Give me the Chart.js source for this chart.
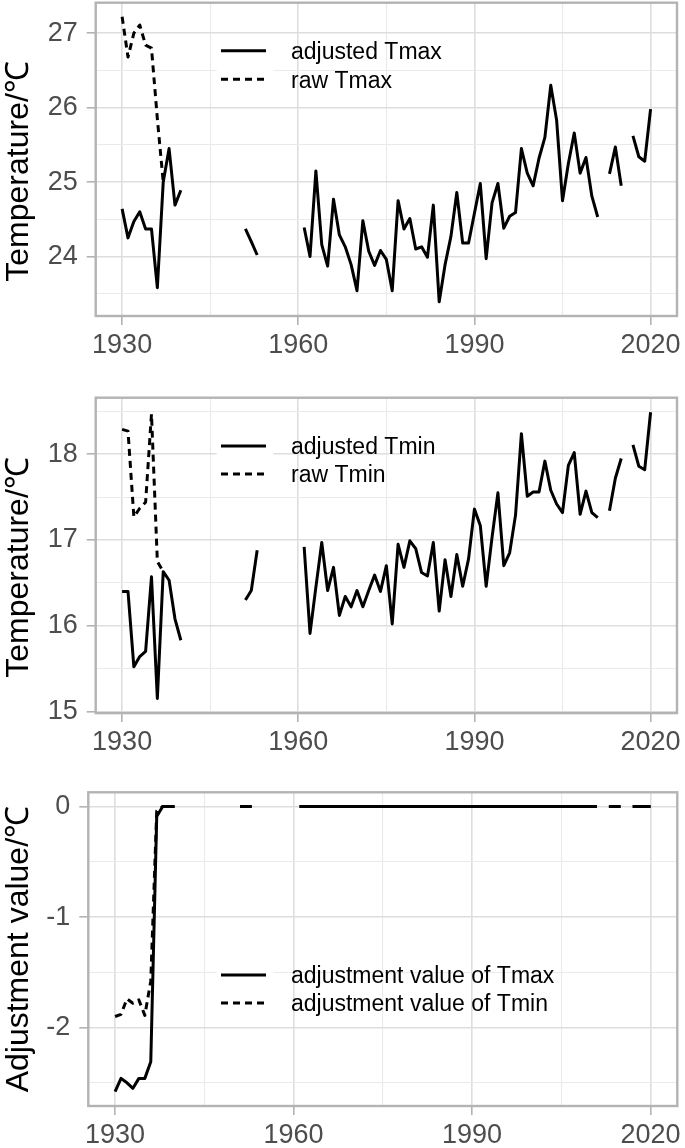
<!DOCTYPE html>
<html>
<head>
<meta charset="utf-8">
<script src="https://cdn.jsdelivr.net/npm/chart.js@4.4.1/dist/chart.umd.min.js"></script>
<style>
html,body{margin:0;padding:0;background:#fff;}
body{width:685px;height:1148px;position:relative;overflow:hidden;}
canvas{position:absolute;left:0;display:block;}
</style>
</head>
<body>
<canvas id="c1" width="685" height="380" style="top:0px;width:685px;height:380px"></canvas>
<canvas id="c2" width="685" height="390" style="top:380px;width:685px;height:390px"></canvas>
<canvas id="c3" width="685" height="378" style="top:770px;width:685px;height:378px"></canvas>
<script>
// ---------- DATA ----------
const years = [];
for (let y = 1930; y <= 2020; y++) years.push(y);
const rawYears = [1930, 1931, 1932, 1933, 1934, 1935, 1936, 1937];

const tmaxAdjusted = [
  24.64, 24.25, 24.47, 24.60, 24.37, 24.37, 23.58, 25.00, 25.45, 24.69,
  24.89, null, null, null, null, null, null, null, null, null,
  null, 24.37, 24.20, 24.02, null, null, null, null, null, null,
  null, 24.39, 24.00, 25.15, 24.16, 23.87, 24.77, 24.29, 24.13, 23.89,
  23.54, 24.48, 24.07, 23.88, 24.08, 23.96, 23.54, 24.75, 24.37, 24.51,
  24.10, 24.13, 23.99, 24.69, 23.39, 23.89, 24.27, 24.86, 24.18, 24.18,
  24.58, 24.98, 23.97, 24.72, 24.98, 24.38, 24.54, 24.59, 25.45, 25.12,
  24.95, 25.32, 25.60, 26.30, 25.83, 24.75, 25.25, 25.66, 25.12, 25.33,
  24.81, 24.53, null, 25.11, 25.47, 24.95, null, 25.62, 25.34, 25.28,
  25.98
];
const tmaxRaw = [27.22, 26.68, 27.00, 27.11, 26.84, 26.80, 25.85, 25.00];

const tminAdjusted = [
  16.40, 16.40, 15.52, 15.64, 15.70, 16.57, 15.15, 16.63, 16.53, 16.08,
  15.83, null, null, null, null, null, null, null, null, null,
  null, 16.30, 16.41, 16.88, null, null, null, null, null, null,
  null, 16.92, 15.91, 16.45, 16.97, 16.41, 16.68, 16.12, 16.34, 16.22,
  16.41, 16.22, 16.41, 16.59, 16.40, 16.70, 16.02, 16.95, 16.68, 16.99,
  16.90, 16.62, 16.58, 16.97, 16.17, 16.77, 16.34, 16.83, 16.46, 16.78,
  17.36, 17.17, 16.46, 17.03, 17.55, 16.70, 16.85, 17.29, 18.24, 17.51,
  17.56, 17.56, 17.92, 17.58, 17.42, 17.32, 17.87, 18.02, 17.30, 17.57,
  17.32, 17.26, null, 17.34, 17.72, 17.95, null, 18.11, 17.86, 17.82,
  18.49
];
const tminRaw = [18.29, 18.27, 17.27, 17.37, 17.44, 18.47, 16.75, 16.63];

const adjTmax = [
  -2.58, -2.46, -2.50, -2.55, -2.46, -2.46, -2.31, -0.09, 0, 0,
  0, null, null, null, null, null, null, null, null, null,
  null, 0, 0, 0, null, null, null, null, null, null,
  null, 0, 0, 0, 0, 0, 0, 0, 0, 0,
  0, 0, 0, 0, 0, 0, 0, 0, 0, 0,
  0, 0, 0, 0, 0, 0, 0, 0, 0, 0,
  0, 0, 0, 0, 0, 0, 0, 0, 0, 0,
  0, 0, 0, 0, 0, 0, 0, 0, 0, 0,
  0, 0, null, 0, 0, 0, null, 0, 0, 0,
  0
];
const adjTmin = [
  -1.90, -1.88, -1.74, -1.78, -1.75, -1.89, -1.58, -0.04, 0, 0,
  0, null, null, null, null, null, null, null, null, null,
  null, 0, 0, 0, null, null, null, null, null, null,
  null, 0, 0, 0, 0, 0, 0, 0, 0, 0,
  0, 0, 0, 0, 0, 0, 0, 0, 0, 0,
  0, 0, 0, 0, 0, 0, 0, 0, 0, 0,
  0, 0, 0, 0, 0, 0, 0, 0, 0, 0,
  0, 0, 0, 0, 0, 0, 0, 0, 0, 0,
  0, 0, null, 0, 0, 0, null, 0, 0, 0,
  0
];

const xTicks = [1930, 1945, 1960, 1975, 1990, 2005, 2020];
const xLabels = [1930, 1960, 1990, 2020];
const yTicks1 = [23.5, 24, 24.5, 25, 25.5, 26, 26.5, 27];
const yTicks2 = [15, 15.5, 16, 16.5, 17, 17.5, 18, 18.5];
const yTicks3 = [-2.5, -2, -1.5, -1, -0.5, 0];

// ---------- HELPERS ----------
const FONT = "'Liberation Sans', Arial, Helvetica, sans-serif";
const MAJOR = '#DEDEDE', MINOR = '#EAEAEA', FRAME = '#B3B3B3';

function pts(xs, ys) { return xs.map((x, i) => ({ x: x, y: ys[i] })); }
const isInt = v => Math.abs(v - Math.round(v)) < 1e-9;

const deco = {
  id: 'deco',
  afterDraw(chart, args, o) {
    const ctx = chart.ctx, a = chart.chartArea;
    ctx.save();
    ctx.strokeStyle = FRAME; ctx.lineWidth = 2.4;
    ctx.strokeRect(a.left, a.top, a.right - a.left, a.bottom - a.top);
    const L = o.legend;
    L.items.forEach((it, i) => {
      const y = L.y[i];
      ctx.fillStyle = '#fff';
      ctx.fillRect(L.boxX0, y - L.rowH / 2, L.boxX1 - L.boxX0, L.rowH);
    });
    L.items.forEach((it, i) => {
      const y = L.y[i];
      ctx.strokeStyle = '#000'; ctx.lineWidth = 3;
      ctx.setLineDash(it.dash);
      ctx.beginPath(); ctx.moveTo(L.lineX0, y); ctx.lineTo(L.lineX1, y); ctx.stroke();
      ctx.setLineDash([]);
      ctx.fillStyle = '#000';
      ctx.font = '23px ' + FONT;
      ctx.textBaseline = 'middle'; ctx.textAlign = 'left';
      ctx.fillText(it.label, L.textX, y + 2);
    });
    ctx.restore();
  }
};

function makeChart(id, cfg) {
  const ds = cfg.series.map(s => ({
    label: s.label,
    data: pts(s.x, s.y),
    borderColor: '#000',
    borderWidth: 3,
    borderDash: s.dash,
    pointRadius: 0,
    fill: false,
    spanGaps: false,
    tension: 0,
    borderJoinStyle: 'round',
    borderCapStyle: 'butt'
  }));
  return new Chart(document.getElementById(id), {
    type: 'line',
    data: { datasets: ds },
    options: {
      responsive: false,
      animation: false,
      devicePixelRatio: 1,
      layout: { padding: { top: cfg.padTop, right: cfg.padRight, left: 0, bottom: 0 } },
      plugins: {
        legend: { display: false },
        tooltip: { enabled: false },
        deco: { legend: cfg.legend }
      },
      scales: {
        x: {
          type: 'linear',
          min: 1925.5, max: 2024.5,
          afterBuildTicks: s => { s.ticks = xTicks.map(v => ({ value: v })); },
          afterFit: s => { s.height = cfg.xHeight; s.paddingLeft = 0; s.paddingRight = 0; },
          ticks: {
            autoSkip: false, maxRotation: 0, minRotation: 0,
            padding: 4,
            color: '#4D4D4D',
            font: { family: FONT, size: 27 },
            callback: v => xLabels.includes(v) ? String(v) : ''
          },
          grid: {
            color: c => (c.tick && xLabels.includes(c.tick.value)) ? MAJOR : MINOR,
            lineWidth: c => (c.tick && xLabels.includes(c.tick.value)) ? 1.6 : 1.1,
            tickColor: c => (c.tick && xLabels.includes(c.tick.value)) ? FRAME : 'rgba(0,0,0,0)',
            tickWidth: 1.6,
            tickLength: 9,
            drawTicks: true
          },
          border: { display: false }
        },
        y: {
          type: 'linear',
          min: cfg.yMin, max: cfg.yMax,
          afterBuildTicks: s => { s.ticks = cfg.yTicks.map(v => ({ value: v })); },
          afterFit: s => { s.width = cfg.yWidth; s.paddingTop = 0; s.paddingBottom = 0; },
          ticks: {
            autoSkip: false,
            padding: 9,
            color: '#4D4D4D',
            font: { family: FONT, size: 27 },
            callback: v => isInt(v) ? String(Math.round(v)) : ''
          },
          grid: {
            color: c => (c.tick && isInt(c.tick.value)) ? MAJOR : MINOR,
            lineWidth: c => (c.tick && isInt(c.tick.value)) ? 1.6 : 1.1,
            tickColor: c => (c.tick && isInt(c.tick.value)) ? FRAME : 'rgba(0,0,0,0)',
            tickWidth: 1.6,
            tickLength: 9,
            drawTicks: true
          },
          border: { display: false },
          title: {
            display: true,
            text: cfg.yTitle,
            color: '#000',
            font: { family: FONT, size: 32 },
            padding: { top: 0, bottom: 0 }
          }
        }
      }
    },
    plugins: [deco]
  });
}

const legendBase = { boxX0: 216.7, boxX1: 273.3, lineX0: 221, lineX1: 266, textX: 291, rowH: 28.5 };

makeChart('c1', {
  series: [
    { label: 'adjusted Tmax', x: years, y: tmaxAdjusted, dash: [] },
    { label: 'raw Tmax', x: rawYears, y: tmaxRaw, dash: [7, 5] }
  ],
  yMin: 23.2, yMax: 27.41, yTicks: yTicks1,
  yTitle: 'Temperature/℃  \u2009',
  padTop: 2.7, padRight: 8, yWidth: 95.7, xHeight: 64,
  legend: Object.assign({}, legendBase, {
    y: [50.7, 79.3],
    items: [{ label: 'adjusted Tmax', dash: [] }, { label: 'raw Tmax', dash: [7, 5] }]
  })
});

makeChart('c2', {
  series: [
    { label: 'adjusted Tmin', x: years, y: tminAdjusted, dash: [] },
    { label: 'raw Tmin', x: rawYears, y: tminRaw, dash: [7, 5] }
  ],
  yMin: 14.98, yMax: 18.66, yTicks: yTicks2,
  yTitle: 'Temperature/℃  \u2009',
  padTop: 17.7, padRight: 8, yWidth: 95.7, xHeight: 56.9,
  legend: Object.assign({}, legendBase, {
    y: [66, 94],
    items: [{ label: 'adjusted Tmin', dash: [] }, { label: 'raw Tmin', dash: [7, 5] }]
  })
});

makeChart('c3', {
  series: [
    { label: 'adjustment value of Tmax', x: years, y: adjTmax, dash: [] },
    { label: 'adjustment value of Tmin', x: years, y: adjTmin, dash: [7, 5] }
  ],
  yMin: -2.71, yMax: 0.129, yTicks: yTicks3,
  yTitle: 'Adjustment value/℃',
  padTop: 22.3, padRight: 7.7, yWidth: 88.3, xHeight: 42,
  legend: Object.assign({}, legendBase, {
    y: [205, 233],
    items: [{ label: 'adjustment value of Tmax', dash: [] }, { label: 'adjustment value of Tmin', dash: [7, 5] }]
  })
});
</script>
</body>
</html>
